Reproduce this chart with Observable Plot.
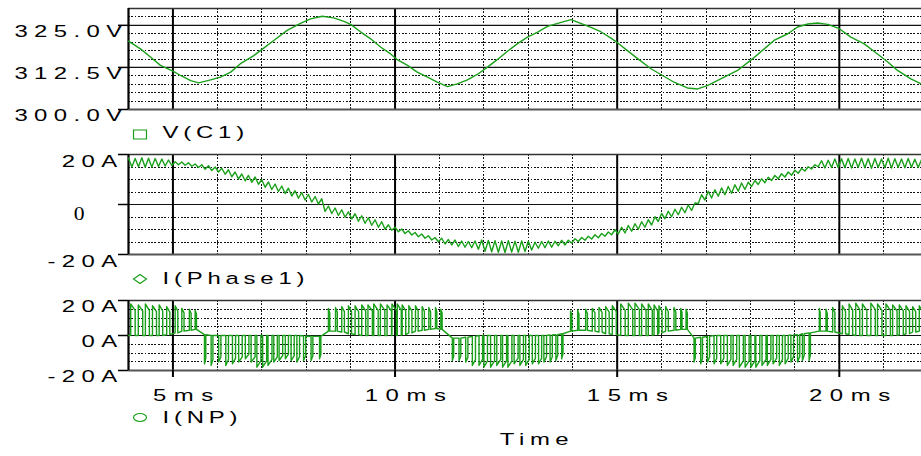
<!DOCTYPE html>
<html>
<head>
<meta charset="utf-8">
<script src="https://cdn.jsdelivr.net/npm/d3@7"></script>
<script src="https://cdn.jsdelivr.net/npm/@observablehq/plot@0.6"></script>
<style>
  body { margin: 0; background: #fff; }
  #chart { position: relative; width: 921px; height: 456px; overflow: hidden; background: #fff; }
  #chart svg { display: block; }
</style>
</head>
<body>
<div id="chart"></div>
<script>
// ---- time axis (ms) ----
const timeDomain = [4, 21.85];
const majorTimes = [5, 10, 15, 20];
const timeLabels = ["5ms", "10ms", "15ms", "20ms"];
const minorTimes = [6, 7, 8, 9, 11, 12, 13, 14, 16, 17, 18, 19, 21];
const seriesNames = ["V(C1)", "I(Phase1)", "I(NP)"];

// ---- V(C1): capacitor voltage, (ms, V) ----
const vDomain = [300, 330];
const vTicks = [325, 312.5, 300];
const vTickLabels = ["325.0V", "312.5V", "300.0V"];
const vMinor = [302.5, 305, 307.5, 310, 315, 317.5, 320, 322.5, 327.5];
const vc1Time = [4.00, 4.27, 4.50, 4.72, 5.00, 5.17, 5.40, 5.58, 5.85, 6.07, 6.30, 6.52, 6.82, 7.02, 7.27, 7.57, 7.87, 8.10,
  8.36, 8.62, 8.85, 9.00, 9.23, 9.45, 9.68, 9.90, 10.04, 10.28, 10.50, 10.73, 10.95, 11.18, 11.40, 11.63, 11.85, 12.08,
  12.30, 12.53, 12.75, 12.98, 13.21, 13.43, 13.66, 13.96, 14.18, 14.41, 14.63, 14.86, 15.02, 15.23, 15.46, 15.76, 16.02,
  16.28, 16.58, 16.81, 17.03, 17.33, 17.71, 18.05, 18.31, 18.53, 18.84, 19.06, 19.29, 19.51, 19.74, 20.00, 20.26, 20.56,
  20.86, 21.09, 21.31, 21.61, 21.85];
const vc1Volts = [320.3, 318.0, 315.5, 313.1, 311.4, 310.1, 308.6, 307.9, 308.8, 309.6, 311.1, 313.6, 316.0, 318.0, 320.5, 323.5, 325.6, 326.9,
  327.7, 327.2, 326.2, 325.3, 323.0, 321.0, 318.5, 316.5, 314.9, 313.1, 311.1, 309.6, 308.1, 306.8, 307.6, 308.8, 310.4, 312.6,
  314.8, 317.3, 319.5, 321.5, 323.0, 324.7, 325.6, 326.7, 325.6, 324.4, 323.1, 321.2, 319.7, 317.5, 315.1, 312.1, 310.1,
  308.1, 306.4, 306.1, 307.1, 309.1, 311.6, 315.1, 318.0, 320.5, 322.5, 324.5, 325.4, 325.7, 325.3, 324.0, 321.5, 319.5,
  316.5, 314.1, 311.6, 309.1, 307.6];

// ---- I(Phase1): phase current, sampled every 0.075 ms from 4 ms (A) ----
const ampDomain = [-20, 20];
const ampTicks = [20, 0, -20];
const ampMinor = [-15, -10, -5, 5, 10, 15];
const phaseTickLabels = ["20A", "0", "-20A"];
const phaseStartMs = 4;
const phaseStepMs = 0.075;
const phaseCurrent = [
  18.6, 15.0, 18.4, 15.1, 18.7, 14.9, 18.5, 15.0, 18.4, 15.2,
  18.2, 15.4, 17.8, 15.6, 17.1, 15.9, 17.0, 15.7, 16.7, 15.3,
  16.2, 14.8, 15.9, 14.1, 15.5, 13.6, 15.0, 13.0, 14.5, 12.1,
  13.9, 11.1, 13.0, 10.2, 12.2, 9.5, 11.6, 8.9, 11.0, 8.1,
  9.9, 6.9, 9.0, 6.0, 8.2, 5.2, 7.4, 4.4, 6.5, 3.4,
  5.5, 2.5, 4.8, 1.8, 4.0, 1.0, 3.2, 0.2, 2.3, -2.8,
  -0.6, -3.6, -1.4, -4.4, -2.1, -5.1, -2.9, -5.8, -3.7, -6.7,
  -4.5, -7.5, -5.3, -8.3, -6.1, -9.1, -6.9, -9.9, -8.1, -10.3,
  -9.1, -10.9, -9.8, -11.6, -10.5, -12.2, -11.2, -12.9, -11.8, -13.5,
  -12.5, -14.2, -13.2, -14.9, -13.5, -15.8, -14.0, -16.2, -14.2, -16.8,
  -14.6, -17.1, -14.8, -17.3, -14.6, -17.9, -14.2, -18.7, -14.4, -18.9,
  -14.5, -19.1, -14.6, -19.2, -14.5, -19.0, -14.7, -19.1, -14.6, -18.8,
  -14.7, -18.2, -15.1, -17.5, -14.8, -17.3, -14.6, -17.1, -14.7, -16.5,
  -14.3, -16.2, -14.3, -15.4, -13.7, -14.8, -13.2, -14.3, -12.7, -13.8,
  -12.1, -13.3, -11.6, -12.7, -11.0, -12.1, -10.1, -11.8, -9.1, -11.4,
  -8.4, -10.7, -7.7, -9.9, -6.9, -9.1, -6.1, -8.2, -4.9, -6.8,
  -3.6, -5.7, -2.7, -4.9, -1.9, -4.1, -1.1, -3.3, -0.2, -2.4,
  0.6, 0.4, 3.9, 1.8, 5.3, 2.6, 5.9, 3.3, 6.6, 3.9,
  7.2, 4.5, 7.9, 5.3, 8.6, 6.0, 8.9, 7.2, 9.6, 8.0,
  10.3, 8.7, 10.9, 9.6, 11.6, 10.3, 12.3, 11.0, 13.0, 11.7,
  13.7, 12.5, 14.4, 13.4, 15.1, 14.2, 15.9, 15.1, 17.5, 14.6,
  17.7, 14.8, 18.2, 14.7, 18.3, 14.7, 18.4, 14.6, 18.2, 14.8,
  18.5, 14.7, 18.3, 14.5, 18.4, 14.8, 18.2, 14.7, 18.5, 14.6,
  18.3, 14.8, 18.2, 14.7, 18.4, 14.9, 18.1, 14.8, 17.9];

// ---- I(NP): neutral-point current pulses ----
const npTickLabels = ["20A", "0A", "-20A"];
// pulse start (ms)
const npStart = [
  4.05, 4.22, 4.38, 4.54, 4.69, 4.86, 5.05, 5.20, 5.37, 5.50,
  5.71, 5.86, 6.03, 6.19, 6.34, 6.48, 6.63, 6.76, 6.89, 7.02, 7.14, 7.27, 7.39, 7.53, 7.66, 7.79, 7.94, 8.11, 8.30,
  8.50, 8.66, 8.80, 8.95, 9.10, 9.25, 9.39, 9.52, 9.67, 9.82, 9.93, 10.05, 10.16, 10.31, 10.46, 10.61, 10.76, 10.91, 11.03,
  11.29, 11.44, 11.59, 11.74, 11.89, 12.00, 12.15, 12.29, 12.42, 12.54, 12.68, 12.81, 12.94, 13.09, 13.23, 13.35, 13.49, 13.62, 13.75,
  13.95, 14.11, 14.29, 14.44, 14.59, 14.74, 14.89, 15.08, 15.25, 15.40, 15.55, 15.70, 15.83, 15.94, 16.09, 16.28, 16.43, 16.55,
  16.73, 16.88, 17.03, 17.18, 17.33, 17.48, 17.61, 17.75, 17.88, 18.01, 18.12, 18.26, 18.38, 18.51, 18.65, 18.78, 18.91, 19.06, 19.17, 19.32,
  19.55, 19.70, 19.85, 20.07, 20.22, 20.37, 20.52, 20.71, 20.86, 21.05, 21.20, 21.35, 21.50, 21.65, 21.80];
// pulse width (ms)
const npWidth = [
  0.10, 0.10, 0.09, 0.09, 0.08, 0.07, 0.06, 0.05, 0.04, 0.03,
  0.03, 0.04, 0.05, 0.06, 0.07, 0.08, 0.08, 0.09, 0.09, 0.09, 0.09, 0.08, 0.08, 0.07, 0.07, 0.06, 0.05, 0.04, 0.03,
  0.03, 0.04, 0.06, 0.07, 0.08, 0.09, 0.10, 0.10, 0.10, 0.10, 0.10, 0.09, 0.08, 0.07, 0.06, 0.05, 0.04, 0.03, 0.03,
  0.03, 0.04, 0.05, 0.07, 0.08, 0.08, 0.09, 0.09, 0.09, 0.09, 0.09, 0.08, 0.08, 0.07, 0.07, 0.06, 0.05, 0.04, 0.03,
  0.03, 0.03, 0.04, 0.06, 0.07, 0.08, 0.09, 0.10, 0.10, 0.10, 0.10, 0.09, 0.08, 0.07, 0.06, 0.04, 0.03, 0.03,
  0.03, 0.04, 0.05, 0.06, 0.07, 0.08, 0.08, 0.09, 0.09, 0.09, 0.09, 0.09, 0.08, 0.08, 0.07, 0.07, 0.06, 0.05, 0.04, 0.03,
  0.02, 0.03, 0.05, 0.07, 0.08, 0.09, 0.10, 0.10, 0.10, 0.10, 0.10, 0.09, 0.08, 0.07, 0.06];
// pulse peak (A)
const npPeak = [
  18, 17.5, 18, 17, 17.5, 16.5, 17, 15.5, 15, 14.5,
  -16.2, -17.1, -15.2, -17.1, -16.2, -15.2, -13.3, -15.2, -18.1, -18.1, -17.1, -15.2, -14.3, -13.3, -14.3, -15.2, -14.3, -14.3, -13.3,
  15.5, 16, 16.5, 17, 17, 17.5, 17.5, 18, 18, 17.5, 18, 18, 17.5, 17, 17, 16.5, 16, 16, 15,
  -14.3, -14.3, -15.2, -17.1, -17.1, -18.1, -18.1, -17.1, -18.1, -18.1, -16.2, -17.1, -17.1, -16.2, -16.2, -15.2, -15.2, -14.3, -13.3,
  14, 14.5, 15, 15.5, 16, 16.5, 17, 18, 18.5, 18.5, 18, 18, 17.5, 17, 16.5, 16, 15.5, 15,
  -15.2, -16.2, -15.2, -16.2, -16.2, -17.1, -17.1, -18.1, -18.1, -18.1, -18.1, -17.1, -17.1, -16.2, -17.1, -16.2, -15.2, -15.2, -14.3, -14.3,
  15.5, 15, 16, 17, 18, 18.5, 18, 18.5, 18, 18, 17.5, 17.5, 17, 16.5, 17];
// level between pulses (A)
const npBase = [
  0, 0, 0, 0, 0, 0.5, 1.5, 2.5, 3, 3.5,
  0.5, 0, 0, 0, 0, 0, 0, 0, 0, 0, 0, 0, 0, 0, 0, 0, -0.3, -0.5, -0.5,
  2.5, 2.5, 2, 1, 0.5, 0, 0, 0, 0, 0, 0, 0, 0.5, 1.5, 2.5, 3, 3.5, 4, 3.5,
  -1.5, -1.5, -1, -0.5, 0, 0, 0, 0, 0, 0, 0, 0, 0, 0, 0, 0, 0.3, 0.5, 1,
  2.5, 3, 3, 2.5, 2, 1, 0.5, 0, 0, 0, 0, 0, 0.5, 1.5, 2.5, 3, 3.5, 3.5,
  -1.5, -1, -0.5, 0, 0, 0, 0, 0, 0, 0, 0, 0, 0, 0, 0, 0, 0.3, 0.5, 1, 1.5,
  2.5, 2.5, 2, 1, 0.5, 0, 0, 0, 0, 0, 0, 0.5, 1, 2, 2.5];

// ---- styling ----
const GREEN = "#1aa01a";
const SANS = "'Liberation Sans', Arial, sans-serif";
const SERIF = "'Liberation Serif', 'Times New Roman', serif";
const FONT_SIZE = 16.5;
const GLYPH_STRETCH = 1.45;
const SPACING = {ytick: 4.4, legend: 3.3, xtick: 5.2, title: 3.8, serif: 0};

// legend glyphs
const boxSymbol = {draw(c) { c.moveTo(-6.5, -4.5); c.lineTo(6.5, -4.5); c.lineTo(6.5, 4.5); c.lineTo(-6.5, 4.5); c.closePath(); }};
const diamondSymbol = {draw(c) { c.moveTo(0, -4.5); c.lineTo(6.5, 0); c.lineTo(0, 4.5); c.lineTo(-6.5, 0); c.closePath(); }};
const ovalSymbol = {draw(c) {
  const rx = 6.5, ry = 4, k = 0.5523;
  c.moveTo(rx, 0);
  c.bezierCurveTo(rx, ry * k, rx * k, ry, 0, ry);
  c.bezierCurveTo(-rx * k, ry, -rx, ry * k, -rx, 0);
  c.bezierCurveTo(-rx, -ry * k, -rx * k, -ry, 0, -ry);
  c.bezierCurveTo(rx * k, -ry, rx, -ry * k, rx, 0);
  c.closePath();
}};

// wide, letter-spaced lettering of the probe window
function widenText(svg) {
  d3.select(svg).selectAll("text").each(function () {
    const g = this.closest("[aria-description]");
    const kind = g ? g.getAttribute("aria-description") : "ytick";
    this.style.letterSpacing = (SPACING[kind] ?? 4.4) + "px";
    const s = kind === "serif" ? 1.2 : GLYPH_STRETCH;
    const t = this.getAttribute("transform") || "";
    const x = +this.getAttribute("x") || 0, y = +this.getAttribute("y") || 0;
    this.setAttribute("transform", `${t} translate(${x},${y}) scale(${s},1) translate(${-x},${-y})`);
  });
  return svg;
}

function panel({height, marginBottom, domain, ticks, minor, major, marks}) {
  const dotted = {stroke: "#111", strokeWidth: 1, strokeDasharray: "1.8,1.5", shapeRendering: "crispEdges"};
  const svg = Plot.plot({
    width: 921, height, marginTop: 8, marginBottom, marginLeft: 128, marginRight: 0,
    x: {domain: timeDomain, axis: null},
    y: {domain, axis: null},
    style: {background: "white", overflow: "visible", fontFamily: SANS, color: "black"},
    marks: [
      Plot.ruleY(minor, dotted),
      Plot.ruleX(minorTimes, dotted),
      Plot.ruleY(major, {stroke: "#111", strokeWidth: 1.2}),
      Plot.ruleX(majorTimes, {stroke: "#000", strokeWidth: 2}),
      Plot.ruleY([domain[1]], {stroke: "#333", strokeWidth: 1.3}),
      Plot.ruleY([domain[0]], {stroke: "#555", strokeWidth: 2}),
      Plot.ruleX([timeDomain[0]], {stroke: "#000", strokeWidth: 2.2}),
      Plot.axisY(ticks, {anchor: "left", tickSize: 10, tickFormat: () => "", label: null, strokeWidth: 1.5}),
      ...marks
    ]
  });
  return widenText(svg);
}

function legend(name, symbol, dySymbol, dyText) {
  return [
    Plot.dot([name], {frameAnchor: "bottom-left", dx: 11.5, dy: dySymbol, symbol, r: 5, stroke: GREEN, fill: "none", strokeWidth: 1.2}),
    Plot.text([name], {text: d => d, frameAnchor: "bottom-left", dx: 34, dy: dyText, textAnchor: "start", fontSize: FONT_SIZE, ariaDescription: "legend"})
  ];
}

function yLabels(ticks, labels, dx, dy, keep = () => true) {
  return Plot.text(ticks, {
    y: d => d, text: (d, i) => labels[i], filter: (d, i) => keep(labels[i]),
    frameAnchor: "left", textAnchor: "end", dx, dy, fontSize: FONT_SIZE, ariaDescription: "ytick"
  });
}

// I(NP) polyline from the pulse table
const npPoints = [{t: timeDomain[0], a: npBase[0]}];
npStart.forEach((t, k) => {
  const b = npBase[k], p = npPeak[k];
  npPoints.push({t, a: b}, {t, a: p}, {t: t + npWidth[k], a: b + (p - b) * 0.8}, {t: t + npWidth[k], a: b});
});
npPoints.push({t: timeDomain[1], a: npBase[npBase.length - 1]});

const chart = document.getElementById("chart");

chart.append(panel({
  height: 146, marginBottom: 37, domain: vDomain, ticks: vTicks, minor: vMinor, major: [312.5, 325],
  marks: [
    Plot.line(vc1Time, {x: d => d, y: (d, i) => vc1Volts[i], stroke: GREEN, strokeWidth: 1.4, clip: true}),
    yLabels(vTicks, vTickLabels, 0, 6.5),
    ...legend(seriesNames[0], boxSymbol, 25, 28.8)
  ]
}));

chart.append(panel({
  height: 146, marginBottom: 38, domain: ampDomain, ticks: ampTicks, minor: ampMinor, major: [0],
  marks: [
    Plot.line(phaseCurrent, {x: (d, i) => phaseStartMs + phaseStepMs * i, y: d => d, stroke: GREEN, strokeWidth: 1.4, clip: true}),
    yLabels(ampTicks, phaseTickLabels, -5, 7.6, s => s !== "0"),
    Plot.text(ampTicks, {
      y: d => d, text: (d, i) => phaseTickLabels[i], filter: (d, i) => phaseTickLabels[i] === "0",
      frameAnchor: "left", textAnchor: "middle", dx: -49.3, dy: 9.3, fontFamily: SERIF, fontSize: 18, ariaDescription: "serif"
    }),
    ...legend(seriesNames[1], diamondSymbol, 24.5, 29.1)
  ]
}));

chart.append(panel({
  height: 164, marginBottom: 86, domain: ampDomain, ticks: ampTicks, minor: ampMinor, major: [0],
  marks: [
    Plot.line(npPoints, {x: "t", y: "a", stroke: GREEN, strokeWidth: 1.4, clip: true}),
    yLabels(ampTicks, npTickLabels, -5, 6),
    Plot.axisX(majorTimes, {anchor: "bottom", tickSize: 7, tickFormat: () => "", label: null, strokeWidth: 2}),
    Plot.text(majorTimes, {x: d => d, text: (d, i) => timeLabels[i], frameAnchor: "bottom", dx: 14, dy: 30.5, fontSize: FONT_SIZE, ariaDescription: "xtick"}),
    Plot.text(["Time"], {text: d => d, frameAnchor: "bottom", dx: 12, dy: 74, fontSize: FONT_SIZE, ariaDescription: "title"}),
    ...legend(seriesNames[2], ovalSymbol, 47, 52.5)
  ]
}));
</script>
</body>
</html>
